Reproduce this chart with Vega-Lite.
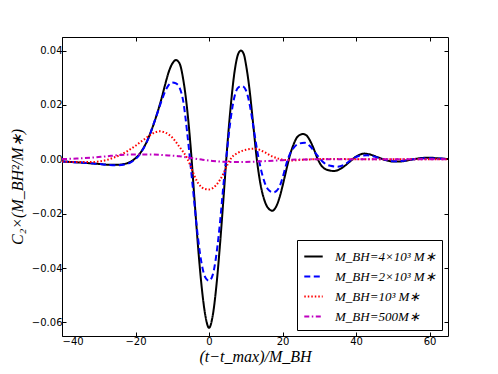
{
  "$schema": "https://vega.github.io/schema/vega-lite/v6.json",
  "width": 386,
  "height": 299,
  "autosize": {"type": "none"},
  "padding": {"left": 62, "top": 37, "right": 50, "bottom": 38},
  "background": "white",
  "config": {
    "view": {"stroke": "black", "strokeWidth": 1},
    "axis": {
      "grid": false,
      "domain": false,
      "tickColor": "black",
      "tickSize": -4,
      "tickWidth": 1,
      "labelFont": "DejaVu Sans",
      "labelFontSize": 10,
      "labelColor": "black",
      "labelPadding": 4,
      "titleFont": "Liberation Serif",
      "titleFontStyle": "italic",
      "titleFontWeight": "normal",
      "titleFontSize": 16,
      "titleColor": "black"
    },
    "legend": {
      "orient": "bottom-right",
      "offset": 6,
      "padding": 6,
      "strokeColor": "black",
      "fillColor": "white",
      "cornerRadius": 0,
      "symbolType": "stroke",
      "symbolStrokeWidth": 2,
      "symbolSize": 340,
      "labelFont": "Liberation Serif",
      "labelFontStyle": "italic",
      "labelFontSize": 13,
      "labelColor": "black",
      "labelOffset": 11,
      "rowPadding": 2
    }
  },
  "data": {
    "values": [
      {"s": "M_BH=4×10³ M∗", "t": -40, "C": -0.0008},
      {"s": "M_BH=4×10³ M∗", "t": -35, "C": -0.0012},
      {"s": "M_BH=4×10³ M∗", "t": -30, "C": -0.0017},
      {"s": "M_BH=4×10³ M∗", "t": -27, "C": -0.0020},
      {"s": "M_BH=4×10³ M∗", "t": -25, "C": -0.0020},
      {"s": "M_BH=4×10³ M∗", "t": -23, "C": -0.0017},
      {"s": "M_BH=4×10³ M∗", "t": -22, "C": -0.0013},
      {"s": "M_BH=4×10³ M∗", "t": -21, "C": -0.0006},
      {"s": "M_BH=4×10³ M∗", "t": -20, "C": 0.0004},
      {"s": "M_BH=4×10³ M∗", "t": -19, "C": 0.0018},
      {"s": "M_BH=4×10³ M∗", "t": -18, "C": 0.0038},
      {"s": "M_BH=4×10³ M∗", "t": -17, "C": 0.0063},
      {"s": "M_BH=4×10³ M∗", "t": -16, "C": 0.0095},
      {"s": "M_BH=4×10³ M∗", "t": -15, "C": 0.0132},
      {"s": "M_BH=4×10³ M∗", "t": -14, "C": 0.0174},
      {"s": "M_BH=4×10³ M∗", "t": -13, "C": 0.0220},
      {"s": "M_BH=4×10³ M∗", "t": -12, "C": 0.0272},
      {"s": "M_BH=4×10³ M∗", "t": -11, "C": 0.0320},
      {"s": "M_BH=4×10³ M∗", "t": -10, "C": 0.0352},
      {"s": "M_BH=4×10³ M∗", "t": -9, "C": 0.0365},
      {"s": "M_BH=4×10³ M∗", "t": -8, "C": 0.0352},
      {"s": "M_BH=4×10³ M∗", "t": -7, "C": 0.0292},
      {"s": "M_BH=4×10³ M∗", "t": -6, "C": 0.0190},
      {"s": "M_BH=4×10³ M∗", "t": -5, "C": 0.0045},
      {"s": "M_BH=4×10³ M∗", "t": -4, "C": -0.0140},
      {"s": "M_BH=4×10³ M∗", "t": -3, "C": -0.0320},
      {"s": "M_BH=4×10³ M∗", "t": -2, "C": -0.0470},
      {"s": "M_BH=4×10³ M∗", "t": -1, "C": -0.0575},
      {"s": "M_BH=4×10³ M∗", "t": 0, "C": -0.0620},
      {"s": "M_BH=4×10³ M∗", "t": 1, "C": -0.0575},
      {"s": "M_BH=4×10³ M∗", "t": 2, "C": -0.0465},
      {"s": "M_BH=4×10³ M∗", "t": 3, "C": -0.0310},
      {"s": "M_BH=4×10³ M∗", "t": 4, "C": -0.0130},
      {"s": "M_BH=4×10³ M∗", "t": 5, "C": 0.0055},
      {"s": "M_BH=4×10³ M∗", "t": 6, "C": 0.0210},
      {"s": "M_BH=4×10³ M∗", "t": 7, "C": 0.0328},
      {"s": "M_BH=4×10³ M∗", "t": 8, "C": 0.0390},
      {"s": "M_BH=4×10³ M∗", "t": 8.7, "C": 0.0400},
      {"s": "M_BH=4×10³ M∗", "t": 9.5, "C": 0.0385},
      {"s": "M_BH=4×10³ M∗", "t": 10, "C": 0.0352},
      {"s": "M_BH=4×10³ M∗", "t": 11, "C": 0.0258},
      {"s": "M_BH=4×10³ M∗", "t": 12, "C": 0.0130},
      {"s": "M_BH=4×10³ M∗", "t": 13, "C": 0.0000},
      {"s": "M_BH=4×10³ M∗", "t": 14, "C": -0.0092},
      {"s": "M_BH=4×10³ M∗", "t": 15, "C": -0.0148},
      {"s": "M_BH=4×10³ M∗", "t": 16, "C": -0.0178},
      {"s": "M_BH=4×10³ M∗", "t": 17.2, "C": -0.0189},
      {"s": "M_BH=4×10³ M∗", "t": 18, "C": -0.0180},
      {"s": "M_BH=4×10³ M∗", "t": 19, "C": -0.0148},
      {"s": "M_BH=4×10³ M∗", "t": 20, "C": -0.0098},
      {"s": "M_BH=4×10³ M∗", "t": 21, "C": -0.0040},
      {"s": "M_BH=4×10³ M∗", "t": 22, "C": 0.0015},
      {"s": "M_BH=4×10³ M∗", "t": 23, "C": 0.0055},
      {"s": "M_BH=4×10³ M∗", "t": 24, "C": 0.0082},
      {"s": "M_BH=4×10³ M∗", "t": 25.5, "C": 0.0093},
      {"s": "M_BH=4×10³ M∗", "t": 26.5, "C": 0.0088},
      {"s": "M_BH=4×10³ M∗", "t": 27.5, "C": 0.0068},
      {"s": "M_BH=4×10³ M∗", "t": 28.5, "C": 0.0038},
      {"s": "M_BH=4×10³ M∗", "t": 29.5, "C": 0.0003},
      {"s": "M_BH=4×10³ M∗", "t": 30.5, "C": -0.0022},
      {"s": "M_BH=4×10³ M∗", "t": 32, "C": -0.0038},
      {"s": "M_BH=4×10³ M∗", "t": 34, "C": -0.0043},
      {"s": "M_BH=4×10³ M∗", "t": 36, "C": -0.0033},
      {"s": "M_BH=4×10³ M∗", "t": 38, "C": -0.0012},
      {"s": "M_BH=4×10³ M∗", "t": 40, "C": 0.0010},
      {"s": "M_BH=4×10³ M∗", "t": 42.2, "C": 0.0021},
      {"s": "M_BH=4×10³ M∗", "t": 44, "C": 0.0017},
      {"s": "M_BH=4×10³ M∗", "t": 46, "C": 0.0007},
      {"s": "M_BH=4×10³ M∗", "t": 48, "C": -0.0003},
      {"s": "M_BH=4×10³ M∗", "t": 50, "C": -0.0008},
      {"s": "M_BH=4×10³ M∗", "t": 52, "C": -0.0008},
      {"s": "M_BH=4×10³ M∗", "t": 54, "C": -0.0004},
      {"s": "M_BH=4×10³ M∗", "t": 56, "C": 0.0001},
      {"s": "M_BH=4×10³ M∗", "t": 58, "C": 0.0005},
      {"s": "M_BH=4×10³ M∗", "t": 60, "C": 0.0006},
      {"s": "M_BH=4×10³ M∗", "t": 62, "C": 0.0004},
      {"s": "M_BH=4×10³ M∗", "t": 65, "C": 0.0001},

      {"s": "M_BH=2×10³ M∗", "t": -40, "C": -0.0008},
      {"s": "M_BH=2×10³ M∗", "t": -35, "C": -0.0012},
      {"s": "M_BH=2×10³ M∗", "t": -30, "C": -0.0017},
      {"s": "M_BH=2×10³ M∗", "t": -27, "C": -0.0021},
      {"s": "M_BH=2×10³ M∗", "t": -25, "C": -0.0022},
      {"s": "M_BH=2×10³ M∗", "t": -23, "C": -0.0019},
      {"s": "M_BH=2×10³ M∗", "t": -22, "C": -0.0016},
      {"s": "M_BH=2×10³ M∗", "t": -21, "C": -0.0009},
      {"s": "M_BH=2×10³ M∗", "t": -20, "C": 0.0001},
      {"s": "M_BH=2×10³ M∗", "t": -19, "C": 0.0015},
      {"s": "M_BH=2×10³ M∗", "t": -18, "C": 0.0036},
      {"s": "M_BH=2×10³ M∗", "t": -17, "C": 0.0062},
      {"s": "M_BH=2×10³ M∗", "t": -16, "C": 0.0095},
      {"s": "M_BH=2×10³ M∗", "t": -15, "C": 0.0133},
      {"s": "M_BH=2×10³ M∗", "t": -14, "C": 0.0172},
      {"s": "M_BH=2×10³ M∗", "t": -13, "C": 0.0212},
      {"s": "M_BH=2×10³ M∗", "t": -12, "C": 0.0248},
      {"s": "M_BH=2×10³ M∗", "t": -11, "C": 0.0273},
      {"s": "M_BH=2×10³ M∗", "t": -10, "C": 0.0283},
      {"s": "M_BH=2×10³ M∗", "t": -9, "C": 0.0279},
      {"s": "M_BH=2×10³ M∗", "t": -8, "C": 0.0263},
      {"s": "M_BH=2×10³ M∗", "t": -7, "C": 0.0212},
      {"s": "M_BH=2×10³ M∗", "t": -6, "C": 0.0105},
      {"s": "M_BH=2×10³ M∗", "t": -5, "C": -0.0025},
      {"s": "M_BH=2×10³ M∗", "t": -4, "C": -0.0160},
      {"s": "M_BH=2×10³ M∗", "t": -3, "C": -0.0290},
      {"s": "M_BH=2×10³ M∗", "t": -2, "C": -0.0385},
      {"s": "M_BH=2×10³ M∗", "t": -1, "C": -0.0435},
      {"s": "M_BH=2×10³ M∗", "t": 0, "C": -0.0447},
      {"s": "M_BH=2×10³ M∗", "t": 1, "C": -0.0425},
      {"s": "M_BH=2×10³ M∗", "t": 2, "C": -0.0350},
      {"s": "M_BH=2×10³ M∗", "t": 3, "C": -0.0230},
      {"s": "M_BH=2×10³ M∗", "t": 4, "C": -0.0082},
      {"s": "M_BH=2×10³ M∗", "t": 5, "C": 0.0045},
      {"s": "M_BH=2×10³ M∗", "t": 6, "C": 0.0160},
      {"s": "M_BH=2×10³ M∗", "t": 7, "C": 0.0235},
      {"s": "M_BH=2×10³ M∗", "t": 8, "C": 0.0265},
      {"s": "M_BH=2×10³ M∗", "t": 9, "C": 0.0269},
      {"s": "M_BH=2×10³ M∗", "t": 10, "C": 0.0255},
      {"s": "M_BH=2×10³ M∗", "t": 11, "C": 0.0205},
      {"s": "M_BH=2×10³ M∗", "t": 12, "C": 0.0125},
      {"s": "M_BH=2×10³ M∗", "t": 13, "C": 0.0040},
      {"s": "M_BH=2×10³ M∗", "t": 14, "C": -0.0030},
      {"s": "M_BH=2×10³ M∗", "t": 15, "C": -0.0080},
      {"s": "M_BH=2×10³ M∗", "t": 16, "C": -0.0110},
      {"s": "M_BH=2×10³ M∗", "t": 17.5, "C": -0.0122},
      {"s": "M_BH=2×10³ M∗", "t": 19, "C": -0.0105},
      {"s": "M_BH=2×10³ M∗", "t": 20, "C": -0.0068},
      {"s": "M_BH=2×10³ M∗", "t": 21, "C": -0.0018},
      {"s": "M_BH=2×10³ M∗", "t": 22, "C": 0.0020},
      {"s": "M_BH=2×10³ M∗", "t": 23, "C": 0.0042},
      {"s": "M_BH=2×10³ M∗", "t": 24.5, "C": 0.0058},
      {"s": "M_BH=2×10³ M∗", "t": 26, "C": 0.0061},
      {"s": "M_BH=2×10³ M∗", "t": 27.5, "C": 0.0048},
      {"s": "M_BH=2×10³ M∗", "t": 29, "C": 0.0022},
      {"s": "M_BH=2×10³ M∗", "t": 30, "C": 0.0005},
      {"s": "M_BH=2×10³ M∗", "t": 31, "C": -0.0010},
      {"s": "M_BH=2×10³ M∗", "t": 33, "C": -0.0024},
      {"s": "M_BH=2×10³ M∗", "t": 35, "C": -0.0027},
      {"s": "M_BH=2×10³ M∗", "t": 37, "C": -0.0018},
      {"s": "M_BH=2×10³ M∗", "t": 39, "C": 0.0002},
      {"s": "M_BH=2×10³ M∗", "t": 41, "C": 0.0013},
      {"s": "M_BH=2×10³ M∗", "t": 43, "C": 0.0015},
      {"s": "M_BH=2×10³ M∗", "t": 45, "C": 0.0010},
      {"s": "M_BH=2×10³ M∗", "t": 47, "C": 0.0002},
      {"s": "M_BH=2×10³ M∗", "t": 49, "C": -0.0005},
      {"s": "M_BH=2×10³ M∗", "t": 51, "C": -0.0007},
      {"s": "M_BH=2×10³ M∗", "t": 53, "C": -0.0005},
      {"s": "M_BH=2×10³ M∗", "t": 55, "C": -0.0001},
      {"s": "M_BH=2×10³ M∗", "t": 57, "C": 0.0002},
      {"s": "M_BH=2×10³ M∗", "t": 60, "C": 0.0004},
      {"s": "M_BH=2×10³ M∗", "t": 62, "C": 0.0003},
      {"s": "M_BH=2×10³ M∗", "t": 65, "C": 0.0001},

      {"s": "M_BH=10³ M∗", "t": -40, "C": -0.0008},
      {"s": "M_BH=10³ M∗", "t": -36, "C": -0.0010},
      {"s": "M_BH=10³ M∗", "t": -32, "C": -0.0010},
      {"s": "M_BH=10³ M∗", "t": -30, "C": -0.0008},
      {"s": "M_BH=10³ M∗", "t": -28, "C": -0.0003},
      {"s": "M_BH=10³ M∗", "t": -26, "C": 0.0006},
      {"s": "M_BH=10³ M∗", "t": -24, "C": 0.0017},
      {"s": "M_BH=10³ M∗", "t": -22, "C": 0.0032},
      {"s": "M_BH=10³ M∗", "t": -20, "C": 0.0050},
      {"s": "M_BH=10³ M∗", "t": -18, "C": 0.0070},
      {"s": "M_BH=10³ M∗", "t": -16, "C": 0.0089},
      {"s": "M_BH=10³ M∗", "t": -14.5, "C": 0.0100},
      {"s": "M_BH=10³ M∗", "t": -13.5, "C": 0.0103},
      {"s": "M_BH=10³ M∗", "t": -12, "C": 0.0099},
      {"s": "M_BH=10³ M∗", "t": -10, "C": 0.0080},
      {"s": "M_BH=10³ M∗", "t": -8, "C": 0.0045},
      {"s": "M_BH=10³ M∗", "t": -7, "C": 0.0027},
      {"s": "M_BH=10³ M∗", "t": -6, "C": 0.0005},
      {"s": "M_BH=10³ M∗", "t": -5, "C": -0.0025},
      {"s": "M_BH=10³ M∗", "t": -4, "C": -0.0060},
      {"s": "M_BH=10³ M∗", "t": -3, "C": -0.0087},
      {"s": "M_BH=10³ M∗", "t": -2, "C": -0.0103},
      {"s": "M_BH=10³ M∗", "t": -1, "C": -0.0109},
      {"s": "M_BH=10³ M∗", "t": 0, "C": -0.0111},
      {"s": "M_BH=10³ M∗", "t": 1, "C": -0.0106},
      {"s": "M_BH=10³ M∗", "t": 2, "C": -0.0094},
      {"s": "M_BH=10³ M∗", "t": 3, "C": -0.0075},
      {"s": "M_BH=10³ M∗", "t": 4, "C": -0.0050},
      {"s": "M_BH=10³ M∗", "t": 5, "C": -0.0020},
      {"s": "M_BH=10³ M∗", "t": 6, "C": 0.0004},
      {"s": "M_BH=10³ M∗", "t": 8, "C": 0.0025},
      {"s": "M_BH=10³ M∗", "t": 10, "C": 0.0035},
      {"s": "M_BH=10³ M∗", "t": 12.5, "C": 0.0039},
      {"s": "M_BH=10³ M∗", "t": 15, "C": 0.0027},
      {"s": "M_BH=10³ M∗", "t": 17, "C": 0.0012},
      {"s": "M_BH=10³ M∗", "t": 19, "C": 0.0002},
      {"s": "M_BH=10³ M∗", "t": 21, "C": -0.0003},
      {"s": "M_BH=10³ M∗", "t": 23, "C": -0.0004},
      {"s": "M_BH=10³ M∗", "t": 25, "C": -0.0002},
      {"s": "M_BH=10³ M∗", "t": 28, "C": 0.0000},
      {"s": "M_BH=10³ M∗", "t": 32, "C": 0.0001},
      {"s": "M_BH=10³ M∗", "t": 36, "C": 0.0001},
      {"s": "M_BH=10³ M∗", "t": 40, "C": 0.0000},
      {"s": "M_BH=10³ M∗", "t": 45, "C": 0.0000},
      {"s": "M_BH=10³ M∗", "t": 50, "C": 0.0000},
      {"s": "M_BH=10³ M∗", "t": 55, "C": 0.0000},
      {"s": "M_BH=10³ M∗", "t": 60, "C": 0.0000},
      {"s": "M_BH=10³ M∗", "t": 65, "C": 0.0000},

      {"s": "M_BH=500M∗", "t": -40, "C": 0.0001},
      {"s": "M_BH=500M∗", "t": -36, "C": 0.0003},
      {"s": "M_BH=500M∗", "t": -32, "C": 0.0006},
      {"s": "M_BH=500M∗", "t": -28, "C": 0.0011},
      {"s": "M_BH=500M∗", "t": -24, "C": 0.0016},
      {"s": "M_BH=500M∗", "t": -20, "C": 0.0018},
      {"s": "M_BH=500M∗", "t": -16, "C": 0.0018},
      {"s": "M_BH=500M∗", "t": -12, "C": 0.0015},
      {"s": "M_BH=500M∗", "t": -8, "C": 0.0011},
      {"s": "M_BH=500M∗", "t": -5, "C": 0.0005},
      {"s": "M_BH=500M∗", "t": -2, "C": -0.0001},
      {"s": "M_BH=500M∗", "t": 1, "C": -0.0006},
      {"s": "M_BH=500M∗", "t": 4, "C": -0.0009},
      {"s": "M_BH=500M∗", "t": 8, "C": -0.0010},
      {"s": "M_BH=500M∗", "t": 12, "C": -0.0009},
      {"s": "M_BH=500M∗", "t": 16, "C": -0.0006},
      {"s": "M_BH=500M∗", "t": 20, "C": -0.0003},
      {"s": "M_BH=500M∗", "t": 24, "C": -0.0001},
      {"s": "M_BH=500M∗", "t": 30, "C": 0.0000},
      {"s": "M_BH=500M∗", "t": 40, "C": 0.0000},
      {"s": "M_BH=500M∗", "t": 50, "C": 0.0000},
      {"s": "M_BH=500M∗", "t": 65, "C": 0.0000}
    ]
  },
  "layer": [
    {
      "mark": {"type": "line", "interpolate": "monotone", "strokeWidth": 2, "clip": true},
      "encoding": {
        "x": {
          "field": "t", "type": "quantitative",
          "scale": {"domain": [-40, 65], "nice": false, "zero": false},
          "axis": {"orient": "bottom", "values": [-40, -20, 0, 20, 40, 60], "format": "d", "title": "(t−t_max)/M_BH", "titlePadding": 2}
        },
        "y": {
          "field": "C", "type": "quantitative",
          "scale": {"domain": [-0.065, 0.045], "nice": false, "zero": false},
          "axis": {"orient": "left", "values": [-0.06, -0.04, -0.02, 0, 0.02, 0.04], "format": ".2f", "title": "C₂×(M_BH²/M∗)", "titlePadding": 6}
        },
        "color": {
          "field": "s", "type": "nominal",
          "scale": {
            "domain": ["M_BH=4×10³ M∗", "M_BH=2×10³ M∗", "M_BH=10³ M∗", "M_BH=500M∗"],
            "range": ["#000000", "#0000ff", "#ff0000", "#bf00bf"]
          },
          "legend": {"title": null}
        },
        "strokeDash": {
          "field": "s", "type": "nominal",
          "scale": {
            "domain": ["M_BH=4×10³ M∗", "M_BH=2×10³ M∗", "M_BH=10³ M∗", "M_BH=500M∗"],
            "range": [[1, 0], [6, 3.5], [1.5, 2], [5, 2.5, 1.5, 2.5]]
          },
          "legend": {"title": null}
        }
      }
    },
    {
      "mark": {"type": "line", "opacity": 0},
      "encoding": {
        "x": {
          "field": "t", "type": "quantitative",
          "axis": {"orient": "top", "values": [-40, -20, 0, 20, 40, 60], "labels": false, "title": null}
        },
        "y": {
          "field": "C", "type": "quantitative",
          "axis": {"orient": "right", "values": [-0.06, -0.04, -0.02, 0, 0.02, 0.04], "labels": false, "title": null}
        },
        "detail": {"field": "s", "type": "nominal"}
      }
    }
  ],
  "resolve": {"axis": {"x": "independent", "y": "independent"}}
}
